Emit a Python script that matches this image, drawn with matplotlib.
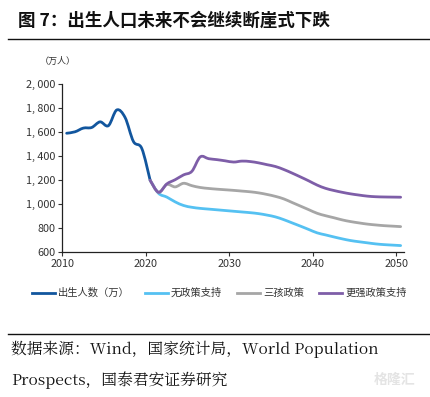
import matplotlib.pyplot as plt
import numpy as np
from matplotlib.lines import Line2D
from matplotlib.path import Path
from matplotlib.patches import PathPatch

plt.rcParams['font.family'] = ['Noto Sans CJK SC', 'DejaVu Sans']
plt.rcParams['axes.unicode_minus'] = False

# 데이터 (万人), 연도 중간(年中)에 표시
hist_years = list(range(2010, 2021))
hist_births = [1592, 1604, 1635, 1640, 1687, 1655, 1786, 1723, 1523, 1465, 1200]

proj_years = list(range(2020, 2051))
no_policy = [1200, 1092, 1060, 1020, 990, 975, 966, 960, 954, 948,
             942, 936, 930, 922, 910, 895, 872, 845, 818, 790,
             762, 745, 728, 712, 698, 688, 679, 670, 664, 660, 656]
three_child = [1200, 1100, 1165, 1145, 1175, 1155, 1140, 1132, 1126, 1121,
               1116, 1110, 1104, 1095, 1082, 1066, 1045, 1015, 985, 955,
               925, 905, 888, 870, 856, 845, 835, 828, 822, 818, 814]
strong_policy = [1200, 1100, 1170, 1205, 1245, 1275, 1395, 1380, 1372, 1362,
                 1352, 1360, 1356, 1345, 1330, 1315, 1290, 1260, 1228, 1195,
                 1160, 1133, 1115, 1100, 1087, 1077, 1068, 1063, 1061, 1060, 1059]

labels = ['出生人数（万）', '无政策支持', '三孩政策', '更强政策支持']
colors = ['#12569E', '#55C1F2', '#A6A6A6', '#7E5EA8']
yticks = [600, 800, 1000, 1200, 1400, 1600, 1800, 2000]
xticks = [2010, 2020, 2030, 2040, 2050]


def smooth_line(ax, x, y, color, lw=2.0, t=1 / 6):
    # 엑셀 스무스 라인처럼 베지어 곡선으로 그리기 (데이터 점은 그대로)
    x = np.asarray(x, float)
    y = np.asarray(y, float)
    verts = [(x[0], y[0])]
    codes = [Path.MOVETO]
    n = len(x)
    for i in range(n - 1):
        x0, y0 = (x[i - 1], y[i - 1]) if i > 0 else (x[i], y[i])
        x3, y3 = (x[i + 2], y[i + 2]) if i + 2 < n else (x[i + 1], y[i + 1])
        c1 = (x[i] + (x[i + 1] - x0) * t, y[i] + (y[i + 1] - y0) * t)
        c2 = (x[i + 1] - (x3 - x[i]) * t, y[i + 1] - (y3 - y[i]) * t)
        verts += [c1, c2, (x[i + 1], y[i + 1])]
        codes += [Path.CURVE4] * 3
    patch = PathPatch(Path(verts, codes), fill=False, edgecolor=color, lw=lw,
                      joinstyle='round', capstyle='round')
    ax.add_patch(patch)


fig = plt.figure(figsize=(4.30, 3.97), dpi=100)
ax = fig.add_axes([0.1453, 0.3645, 0.7942, 0.4232])

hx = np.array(hist_years) + 0.5
px = np.array(proj_years) + 0.5
smooth_line(ax, hx, hist_births, colors[0])
smooth_line(ax, px, no_policy, colors[1])
smooth_line(ax, px, three_child, colors[2])
smooth_line(ax, px, strong_policy, colors[3])

ax.set_xlim(2010, 2050.9)
ax.set_ylim(600, 2000)
ax.set_xticks(xticks)
ax.set_yticks(yticks)
ax.set_yticklabels([f"{v:,}".replace(",", ", ") for v in yticks])
ax.tick_params(axis='both', direction='out', length=3, width=0.8, labelsize=7.8,
               colors='#333333', labelcolor='#333333', pad=2)
for s in ['top', 'right']:
    ax.spines[s].set_visible(False)
for s in ['left', 'bottom']:
    ax.spines[s].set_color('#222222')
    ax.spines[s].set_linewidth(0.9)

# 제목 / 구분선
fig.text(0.042, 0.948, '图 7：出生人口未来不会继续断崖式下跌', fontsize=12.6,
         fontweight='bold', va='center', ha='left', color='#111111')
fig.add_artist(Line2D([0.018, 1.0], [0.901, 0.901], color='#111111', lw=1.0))
fig.text(0.093, 0.845, '（万人）', fontsize=6.5, va='center', ha='left', color='#333333')

# 범례
handles = [Line2D([], [], color=c, lw=2.0) for c in colors]
fig.legend(handles, labels, loc='center', bbox_to_anchor=(0.51, 0.262), ncol=4,
           frameon=False, fontsize=7.4, handlelength=2.2, handletextpad=0.3,
           columnspacing=1.5, labelcolor='#333333')

# 출처
src_font = ['Noto Serif CJK SC', 'Liberation Serif', 'Noto Sans CJK SC']
fig.add_artist(Line2D([0.018, 1.0], [0.159, 0.159], color='#111111', lw=1.0))
fig.text(0.025, 0.121, '数据来源：Wind，国家统计局，World Population', fontsize=11.3,
         va='center', ha='left', color='#111111', family=src_font)
fig.text(0.025, 0.043, 'Prospects，国泰君安证券研究', fontsize=11.3,
         va='center', ha='left', color='#111111', family=src_font)
fig.text(0.965, 0.043, '格隆汇', fontsize=10, va='center', ha='right',
         color='#E4E4E4', fontweight='bold')

fig.savefig('out.png', dpi=100)
